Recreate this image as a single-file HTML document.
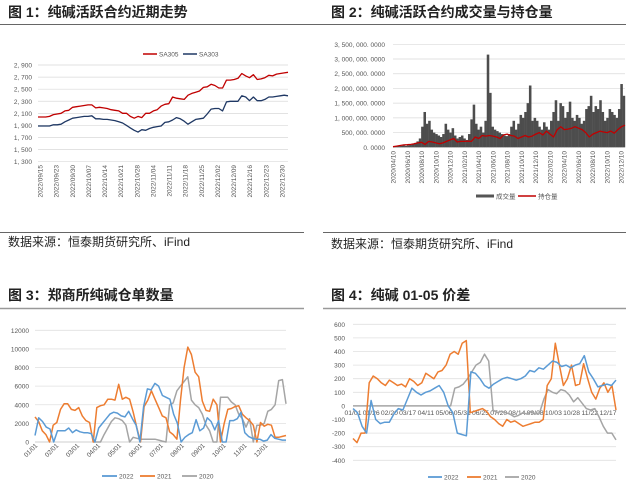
<!DOCTYPE html>
<html><head><meta charset="utf-8">
<style>
html,body{margin:0;padding:0;background:#fff;}
svg{display:block;font-family:"Liberation Sans","Noto Sans CJK SC",sans-serif;}
</style></head>
<body>
<svg id="s" width="626" height="485" viewBox="0 0 626 485" xmlns="http://www.w3.org/2000/svg">
<text x="8" y="17" font-size="14" font-weight="bold" fill="#222">图 1：纯碱活跃合约近期走势</text>
<text x="331" y="17" font-size="14" font-weight="bold" fill="#222">图 2：纯碱活跃合约成交量与持仓量</text>
<line x1="0" y1="24.5" x2="626" y2="24.5" stroke="#666" stroke-width="1"/>
<line x1="0" y1="232.5" x2="304" y2="232.5" stroke="#666" stroke-width="1"/>
<line x1="323" y1="232.5" x2="626" y2="232.5" stroke="#666" stroke-width="1"/>
<text x="8" y="246" font-size="12" fill="#222">数据来源：恒泰期货研究所、iFind</text>
<text x="331" y="248" font-size="12" fill="#222">数据来源：恒泰期货研究所、iFind</text>
<text x="8" y="300" font-size="14" font-weight="bold" fill="#222">图 3：郑商所纯碱仓单数量</text>
<text x="331" y="300" font-size="14" font-weight="bold" fill="#222">图 4：纯碱 01-05 价差</text>
<line x1="0" y1="308.5" x2="304" y2="308.5" stroke="#999" stroke-width="1.5"/>
<line x1="323" y1="308.5" x2="626" y2="308.5" stroke="#999" stroke-width="1.5"/>
<g id="c1"></g>
<g id="c2"></g>
<g id="c3"></g>
<g id="c4"></g>
</svg>
<script>
// ---- Chart 1 data ----
const c1Ticks = [1300,1500,1700,1900,2100,2300,2500,2700,2900];
const c1TickLabels = ["1, 300","1, 500","1, 700","1, 900","2, 100","2, 300","2, 500","2, 700","2, 900"];
const c1Dates = ["2022/09/15","2022/09/23","2022/09/30","2022/10/07","2022/10/14","2022/10/21","2022/10/28","2022/11/04","2022/11/11","2022/11/18","2022/11/25","2022/12/02","2022/12/09","2022/12/16","2022/12/23","2022/12/30"];
const sa305 = [2040,2040,2040,2050,2080,2090,2100,2140,2150,2200,2210,2220,2230,2240,2240,2190,2200,2190,2180,2160,2150,2140,2100,2100,2050,2020,2050,2030,2100,2100,2140,2160,2220,2250,2260,2370,2350,2340,2330,2400,2430,2450,2470,2530,2540,2580,2560,2520,2520,2650,2650,2660,2680,2760,2720,2690,2740,2660,2670,2690,2730,2720,2750,2760,2770,2780];
const sa303 = [1890,1890,1890,1890,1910,1910,1920,1960,1990,2020,2030,2040,2050,2050,2060,2010,2010,2000,2000,1990,1980,1960,1940,1900,1860,1820,1790,1830,1820,1850,1870,1880,1890,1950,1960,1990,2030,2010,1970,1920,1960,2000,2010,2020,2090,2170,2180,2180,2140,2290,2300,2300,2300,2390,2370,2310,2370,2310,2310,2330,2370,2370,2380,2390,2400,2390];
// ---- Chart 2 data (millions) ----
const c2Ticks = [0,500,1000,1500,2000,2500,3000,3500];
const c2TickLabels = ["0. 0000","500, 000. 0000","1, 000, 000. 0000","1, 500, 000. 0000","2, 000, 000. 0000","2, 500, 000. 0000","3, 000, 000. 0000","3, 500, 000. 0000"];
const c2Dates = ["2020/04/10","2020/06/10","2020/08/10","2020/10/10","2020/12/10","2021/02/10","2021/04/10","2021/06/10","2021/08/10","2021/10/10","2021/12/10","2022/02/10","2022/04/10","2022/06/10","2022/08/10","2022/10/10","2022/12/10"];
const volume = [20,30,40,50,60,50,70,80,100,150,200,300,700,1200,800,900,600,500,450,400,350,450,800,600,500,650,400,300,350,400,300,250,450,950,1450,800,600,700,500,900,3150,1850,700,600,550,500,450,400,380,450,700,900,600,800,1100,1000,1200,1500,2100,900,1000,900,700,600,850,700,600,900,1200,1600,900,1500,1400,1000,1200,1550,1000,900,1100,1000,800,900,1300,1400,1750,1200,1400,1300,1600,1200,900,1000,1300,1200,1100,1000,1300,2150,1750];
const openInterest = [20,40,60,80,90,100,120,150,170,100,200,180,150,120,150,200,250,300,180,200,200,210,200,350,300,400,380,400,380,350,300,420,450,400,380,300,350,400,350,380,450,500,420,550,450,350,600,700,600,620,650,700,650,600,500,350,450,500,550,520,500,550,480,600,700,750];
// ---- Chart 3 data ----
const c3Ticks = [0,2000,4000,6000,8000,10000,12000];
const c3Months = ["01/01","02/01","03/01","04/01","05/01","06/01","07/01","08/01","09/01","10/01","11/01","12/01"];
const wr2022 = [700,2600,2200,1600,1400,0,1200,1200,1200,1500,1000,1300,1100,1000,1000,900,0,1500,2000,2500,3000,3200,3100,2800,2700,3300,2500,1800,0,3800,5700,5600,6300,6000,5000,4800,4600,3000,2000,0,500,800,1000,2400,1200,1500,2600,2200,1300,2300,0,0,2300,2300,2500,3200,1000,600,400,300,300,100,200,800,400,300,200,200];
const wr2021 = [2700,2200,1200,800,0,1800,2100,3500,4100,4100,3500,3400,3700,2800,2300,2100,0,3700,3900,4000,4600,4600,4500,6200,4600,4800,4600,3200,1500,0,3800,4500,5500,4600,3700,2800,2600,1100,800,300,4500,8000,10200,9400,7500,7000,4400,3400,3300,4600,4000,0,2000,3500,3600,3800,3900,3000,2600,2300,1800,0,2100,1700,1900,1800,500,500,600,700];
const wr2020 = [null,null,null,null,null,null,null,null,null,null,null,null,null,null,null,null,0,0,0,800,1500,2200,2600,2500,2300,1800,0,500,400,300,300,300,300,300,200,100,0,4000,4200,5500,6000,6500,7000,4500,4000,3700,3000,1800,1200,0,0,4800,4800,4800,4300,4000,3000,2500,1600,2500,0,1800,1800,2000,3300,3500,4000,6600,6700,4100];
// ---- Chart 4 data ----
const c4Ticks = [-400,-300,-200,-100,0,100,200,300,400,500,600];
const c4Dates = ["01/01","01/26","02/20","03/17","04/11","05/06","05/31","06/25","07/20","08/14","09/08","10/03","10/28","11/22","12/17"];
const sp2022 = [-20,-50,-150,-200,40,-100,-130,-120,-120,-60,-20,-30,50,130,100,80,100,110,130,150,100,0,-50,-200,-210,-220,250,240,200,150,130,160,180,200,210,200,190,200,220,260,250,280,270,300,330,320,290,300,280,300,310,370,250,200,140,150,160,150,190];
const sp2021 = [-240,-270,-200,-200,170,220,200,170,150,190,170,150,160,140,200,180,150,170,240,220,200,250,260,300,380,400,380,460,480,-50,-40,-30,-20,-40,-80,-100,-130,-150,-100,-120,-110,-130,-150,-140,-130,-120,-120,-100,150,200,460,300,150,200,300,150,160,310,200,100,50,130,170,100,150,-30];
const sp2020 = [0,0,0,0,0,0,0,0,0,0,0,0,0,0,0,0,0,0,0,0,0,0,0,0,130,140,160,200,250,300,320,380,330,-30,-50,-40,-50,-60,-80,-70,-50,-60,-40,-60,-50,50,120,100,90,120,110,80,30,60,20,-20,-30,-20,-80,-150,-200,-200,-250];

const NS="http://www.w3.org/2000/svg";
function el(tag, parent, attrs){const e=document.createElementNS(NS,tag);for(const k in attrs)e.setAttribute(k,attrs[k]);parent.appendChild(e);return e;}
function lin(d0,d1,r0,r1){return v=>r0+(v-d0)/(d1-d0)*(r1-r0);}
function poly(parent, arr, xf, yf, color, w){
  let segs=[],cur=[];
  arr.forEach((v,i)=>{if(v===null){if(cur.length)segs.push(cur);cur=[];}else cur.push(xf(i).toFixed(1)+","+yf(v).toFixed(1));});
  if(cur.length)segs.push(cur);
  return segs.map(s=>el('polyline',parent,{points:s.join(" "),fill:"none",stroke:color,"stroke-width":w,"stroke-linejoin":"round"}));
}

// Chart 1
(function(){
  const g=document.getElementById('c1');
  const x0=38,x1=288,yS=lin(1300,2900,161.7,65);
  c1Ticks.forEach((t,i)=>{
    const l=el('line',g,{x1:x0,x2:x1,y1:yS(t),y2:yS(t),stroke:"#d9d9d9","stroke-width":0.7});
    
    
    const tx=el('text',g,{x:32,y:yS(t)+2.5,"font-size":6.5,fill:"#555","text-anchor":"end"});
    tx.textContent=c1TickLabels[i];
    
    
  });
  c1Dates.forEach((d,i)=>{
    const x=40+i*(242/(c1Dates.length-1));
    const tx=el('text',g,{x:0,y:0,"font-size":6.5,fill:"#555","text-anchor":"end",transform:`translate(${x+2.5},165) rotate(-90)`});
    tx.textContent=d;
    
    
  });
  const xr=n=>i=>x0+i*(x1-x0)/(n-1);
  poly(g,sa305,xr(sa305.length),yS,"#c00000",1.3).forEach(p=>{
    
    
  });
  poly(g,sa303,xr(sa303.length),yS,"#1f3864",1.3).forEach(p=>{
    
    
  });
  [["SA305","#c00000",143],["SA303","#1f3864",183]].forEach(([n,c,x])=>{
    const l=el('line',g,{x1:x,x2:x+14,y1:54,y2:54,stroke:c,"stroke-width":1.5});
    
    
    const t=el('text',g,{x:x+16,y:56.5,"font-size":6.5,fill:"#555"});
    t.textContent=n;
    
    
  });
})();

// Chart 2
(function(){
  const g=document.getElementById('c2');
  const x0=393,x1=625,yS=lin(0,3500,147.3,44.3);
  c2Ticks.forEach((t,i)=>{
    const l=el('line',g,{x1:x0,x2:x1,y1:yS(t),y2:yS(t),stroke:"#d9d9d9","stroke-width":0.7});
    
    
    const tx=el('text',g,{x:385,y:yS(t)+2.5,"font-size":6.5,fill:"#555","text-anchor":"end"});
    tx.textContent=c2TickLabels[i];
    
    
  });
  const bw=(x1-x0)/volume.length;
  volume.forEach((v,i)=>{
    const r=el('rect',g,{x:x0+i*bw,y:yS(v),width:bw+0.2,height:yS(0)-yS(v),fill:"#4d4d4d"});
    
    
  });
  poly(g,openInterest,i=>x0+i*(x1-x0)/(openInterest.length-1),yS,"#c00000",1.3).forEach(p=>{
    
    
  });
  c2Dates.forEach((d,i)=>{
    const x=393+i*(228/(c2Dates.length-1));
    const tx=el('text',g,{x:0,y:0,"font-size":6.5,fill:"#555","text-anchor":"end",transform:`translate(${x+2.5},151) rotate(-90)`});
    tx.textContent=d;
    
    
  });
  const l1=el('rect',g,{x:476,y:194.5,width:18,height:3,fill:"#555"});
  
  
  const t1=el('text',g,{x:496,y:198.5,"font-size":6.5,fill:"#555"});t1.textContent="成交量";
  
  
  const l2=el('line',g,{x1:518,x2:536,y1:196,y2:196,stroke:"#c00000","stroke-width":1.5});
  
  
  const t2=el('text',g,{x:538,y:198.5,"font-size":6.5,fill:"#555"});t2.textContent="持仓量";
  
  
})();

// Chart 3
(function(){
  const g=document.getElementById('c3');
  const x0=35,x1=286,yS=lin(0,12000,442,330.3);
  c3Ticks.forEach(t=>{
    const l=el('line',g,{x1:x0,x2:x1,y1:yS(t),y2:yS(t),stroke:t===0?"#bfbfbf":"#e0e0e0","stroke-width":0.8});
    
    
    const tx=el('text',g,{x:29,y:yS(t)+2.5,"font-size":6.5,fill:"#555","text-anchor":"end"});
    tx.textContent=String(t);
    
    
  });
  c3Months.forEach((m,i)=>{
    const x=x0+i*(x1-x0)/12;
    const tx=el('text',g,{x:0,y:0,"font-size":6.5,fill:"#555","text-anchor":"end",transform:`translate(${x+3},446) rotate(-45)`});
    tx.textContent=m;
    
    
  });
  [[wr2020,"#a5a5a5","wr-2020-line"],[wr2021,"#ed7d31","wr-2021-line"],[wr2022,"#5b9bd5","wr-2022-line"]].forEach(([a,c,n])=>{
    poly(g,a,i=>x0+i*(x1-x0)/(a.length-1),yS,c,1.5).forEach(p=>{
      
      
    });
  });
  [["2022","#5b9bd5",102],["2021","#ed7d31",140],["2020","#a5a5a5",182]].forEach(([n,c,x])=>{
    const l=el('line',g,{x1:x,x2:x+15,y1:476,y2:476,stroke:c,"stroke-width":1.8});
    
    
    const t=el('text',g,{x:x+17,y:478.5,"font-size":6.5,fill:"#555"});
    t.textContent=n;
    
    
  });
})();

// Chart 4
(function(){
  const g=document.getElementById('c4');
  const x0=353,x1=616,yS=lin(-400,600,460.3,324.3);
  c4Ticks.forEach(t=>{
    const l=el('line',g,{x1:x0,x2:x1,y1:yS(t),y2:yS(t),stroke:t===0?"#bfbfbf":"#e0e0e0","stroke-width":0.8});
    
    
    const tx=el('text',g,{x:345,y:yS(t)+2.5,"font-size":6.5,fill:"#555","text-anchor":"end"});
    tx.textContent=String(t);
    
    
  });
  c4Dates.forEach((d,i)=>{
    const x=x0+i*(x1-x0-8)/(c4Dates.length-1);
    const tx=el('text',g,{x:x,y:yS(0)+9,"font-size":6.8,fill:"#555","text-anchor":"middle"});
    tx.textContent=d;
    
    
  });
  [[sp2020,"#a5a5a5","spread-2020-line"],[sp2021,"#ed7d31","spread-2021-line"],[sp2022,"#5b9bd5","spread-2022-line"]].forEach(([a,c,n])=>{
    poly(g,a,i=>x0+i*(x1-x0)/(a.length-1),yS,c,1.5).forEach(p=>{
      
      
    });
  });
  [["2022","#5b9bd5",428],["2021","#ed7d31",467],["2020","#a5a5a5",505]].forEach(([n,c,x])=>{
    const l=el('line',g,{x1:x,x2:x+14,y1:477,y2:477,stroke:c,"stroke-width":1.8});
    
    
    const t=el('text',g,{x:x+16,y:479.5,"font-size":6.5,fill:"#555"});
    t.textContent=n;
    
    
  });
})();
</script>
</body></html>
